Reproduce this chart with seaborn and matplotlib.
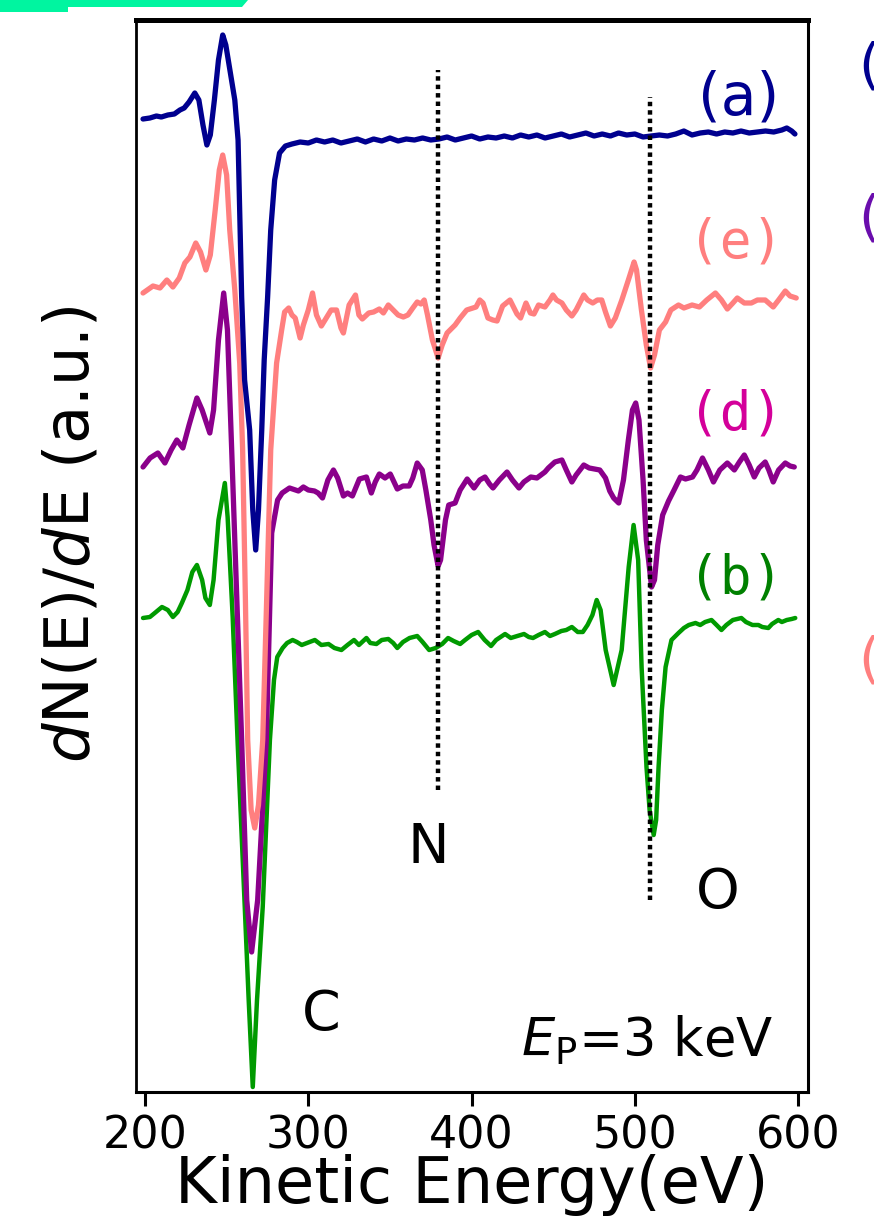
import numpy as np
import pandas as pd
import matplotlib
matplotlib.use("Agg")
import matplotlib.pyplot as plt
from matplotlib.patches import Polygon
import seaborn as sns

sns.set_theme(style="white")
plt.rcParams['font.family'] = ['DejaVu Sans']
plt.rcParams['mathtext.fontset'] = 'dejavusans'

# ---------------- data ----------------
# (a) navy
a_E = [198.8, 203, 207, 210, 214, 218, 221.4, 224, 227, 230.5, 233, 235.5, 237.9, 240, 242.5, 245,
       247.6, 249.5, 252, 255, 257, 259.2, 261, 264.1, 266, 267.8, 269.5, 271.5, 273, 275.1, 277,
       279.4, 282.4, 286, 290, 295, 300, 305, 310, 315, 320, 325, 330, 335, 340, 345, 350, 355,
       360, 365, 370, 375, 380, 385, 390, 395, 400, 405, 410, 415, 420, 425, 430, 435, 440, 445,
       450, 455, 460, 465, 470, 475, 480, 485, 490, 495, 500, 505, 510, 515, 520, 525, 530, 535,
       540, 545, 550, 555, 560, 565, 570, 575, 580, 585, 590, 593, 596, 598]
a_I = [9.81, 9.82, 9.84, 9.83, 9.85, 9.86, 9.90, 9.92, 9.98, 10.07, 10.00, 9.75, 9.55, 9.65, 10.00, 10.40,
       10.65, 10.55, 10.30, 10.00, 9.60, 8.03, 7.20, 6.70, 5.90, 5.50, 5.90, 6.70, 7.40, 8.03, 8.70,
       9.20, 9.47, 9.54, 9.56, 9.58, 9.57, 9.60, 9.58, 9.60, 9.57, 9.59, 9.61, 9.58, 9.61, 9.59, 9.62, 9.59,
       9.61, 9.60, 9.62, 9.60, 9.61, 9.63, 9.60, 9.62, 9.64, 9.61, 9.63, 9.62, 9.64, 9.62, 9.65, 9.63, 9.65, 9.62,
       9.64, 9.66, 9.63, 9.65, 9.67, 9.64, 9.66, 9.64, 9.67, 9.65, 9.66, 9.63, 9.64, 9.65, 9.64, 9.66, 9.69, 9.65,
       9.67, 9.68, 9.66, 9.68, 9.67, 9.69, 9.67, 9.68, 9.69, 9.68, 9.70, 9.72, 9.69, 9.66]

# (e) salmon
e_E = [198.8, 204.9, 209.2, 213.4, 217.1, 221, 224.4, 227.5, 231.1, 234, 237.3, 240, 243, 245.5, 247.6,
       250, 251.9, 255, 258, 259.8, 261.5, 262.9, 265, 267.2, 269.5, 272.1, 274.5, 277, 280.6, 283.7,
       285.5, 288, 290, 292, 295, 297, 300, 302.6, 305, 308, 311, 314, 317.3, 320, 321.5, 325, 328.9,
       331, 333.1, 337, 340, 343.5, 346, 349, 352, 355, 358.2, 361, 364, 366.7, 369, 371, 373, 376,
       379.5, 382, 385, 389.9, 393, 397, 402.7, 405, 407, 410, 413, 415.6, 419, 423.5, 427.8, 430,
       433.3, 436, 438.2, 441, 444.9, 448, 449.8, 452, 455.3, 458, 461.4, 464, 468.7, 471, 474.2, 477,
       479.7, 482, 485, 488, 492, 496, 499.5, 501, 504, 507, 509.6, 512, 515, 518.8, 522, 526.7, 530,
       535, 539.5, 544, 549.3, 553, 556.6, 560, 562.7, 567, 571.3, 575, 579.8, 584.7, 588, 592.1, 595, 598.8]
e_I = [8.07, 8.14, 8.12, 8.20, 8.13, 8.22, 8.37, 8.43, 8.57, 8.48, 8.30, 8.45, 8.90, 9.30, 9.45,
       9.25, 8.70, 8.10, 7.37, 6.50, 5.00, 3.60, 2.90, 2.72, 2.95, 3.60, 5.00, 6.50, 7.37, 7.70,
       7.88, 7.92, 7.85, 7.82, 7.62, 7.75, 7.90, 8.07, 7.85, 7.74, 7.82, 7.90, 7.90, 7.72, 7.67, 7.95, 8.05,
       7.85, 7.81, 7.87, 7.88, 7.91, 7.87, 7.95, 7.90, 7.85, 7.83, 7.85, 7.92, 7.98, 7.96, 8.00, 7.85, 7.60,
       7.42, 7.55, 7.67, 7.75, 7.82, 7.90, 7.93, 8.00, 7.97, 7.82, 7.80, 7.79, 7.94, 8.00, 7.86, 7.82,
       7.97, 7.87, 7.86, 7.95, 7.93, 8.00, 8.05, 8.00, 7.97, 7.90, 7.84, 7.90, 8.05, 8.00, 7.97, 8.00,
       8.00, 7.88, 7.74, 7.82, 8.00, 8.20, 8.38, 8.30, 7.90, 7.55, 7.32, 7.45, 7.70, 7.78, 7.90, 7.95, 7.92,
       7.95, 7.93, 8.00, 8.07, 8.00, 7.91, 7.97, 8.02, 7.97, 7.97, 8.00, 8.00, 7.93, 8.00, 8.09, 8.04, 8.02]

# (d) purple
d_E = [198.8, 203.1, 207.9, 212.2, 216, 219.5, 223.2, 227, 231.8, 235, 239.7, 242, 245, 248.2, 250.5,
       253.1, 259.2, 262.3, 265.3, 269.0, 274.3, 277.6, 281.2, 284, 288.5, 294, 297, 300, 303.8, 306,
       308.7, 312, 315.4, 318, 321.5, 324, 327, 331.3, 335.6, 338.6, 341, 343.5, 347, 350.2, 354.5, 358,
       361.8, 364, 366.7, 369.8, 372, 375, 377, 379.5, 381, 384, 386, 389.9, 393, 397.3, 401.5, 405,
       408.2, 411, 413.1, 417, 421.7, 425, 429, 432, 436.3, 440, 444.9, 447, 451, 455.3, 458, 461.4,
       464, 468.7, 472, 478.5, 482, 484.6, 487, 490.1, 493, 496, 498.5, 500.5, 502.5, 505, 507, 510.2,
       512, 514, 517, 520.6, 524, 527.9, 531, 535.3, 538, 541.4, 545, 548.1, 552, 556.6, 560.9, 564,
       567, 570, 573.1, 576, 579.8, 582, 584.7, 588, 592.1, 595, 597.6]
d_I = [6.33, 6.42, 6.47, 6.37, 6.50, 6.60, 6.52, 6.75, 7.02, 6.90, 6.67, 6.90, 7.60, 8.07, 7.70,
       6.50, 3.60, 2.00, 1.48, 2.00, 3.60, 5.67, 6.00, 6.07, 6.12, 6.09, 6.13, 6.10, 6.09, 6.07,
       6.02, 6.20, 6.30, 6.22, 6.04, 6.07, 6.04, 6.21, 6.23, 6.07, 6.18, 6.26, 6.22, 6.26, 6.11, 6.14,
       6.14, 6.22, 6.37, 6.30, 6.10, 5.80, 5.55, 5.34, 5.40, 5.80, 5.95, 5.97, 6.10, 6.21, 6.12, 6.20,
       6.23, 6.16, 6.12, 6.20, 6.28, 6.20, 6.12, 6.18, 6.23, 6.22, 6.28, 6.32, 6.38, 6.40, 6.30, 6.18,
       6.25, 6.35, 6.32, 6.30, 6.22, 6.09, 6.02, 5.97, 6.20, 6.60, 6.90, 6.97, 6.80, 6.20, 5.60, 5.13,
       5.20, 5.55, 5.85, 5.99, 6.10, 6.23, 6.21, 6.23, 6.30, 6.42, 6.30, 6.18, 6.30, 6.37, 6.30, 6.38,
       6.45, 6.35, 6.23, 6.32, 6.38, 6.30, 6.18, 6.30, 6.37, 6.34, 6.33]

# (b) green
b_E = [198.8, 203, 206, 210.4, 214, 217.1, 220, 222.6, 226, 229, 231.8, 235, 237, 239.7, 242, 245,
       248.9, 250.6, 253.7, 256.8, 261.1, 263.5, 266.0, 268.6, 272.1, 276.5, 279, 281, 284.3, 287,
       290.4, 293, 296, 300.8, 304, 308, 312.4, 316, 320.3, 324, 328, 331, 335.6, 338, 341.7, 345, 349,
       352, 354.5, 358, 362, 366.7, 370, 374, 378, 382, 385.6, 389, 393, 396, 400, 404, 408, 411.9,
       415, 420.5, 424, 428, 432.1, 435, 437.6, 441, 444.9, 448, 451, 455, 458, 461.4, 465, 468.1,
       471, 474, 476.6, 479, 482.1, 487.0, 491.9, 496.2, 499.2, 502, 504.1, 507.1, 509, 511.5, 513,
       514.5, 516.5, 518.8, 522.4, 526.7, 530, 533, 537.1, 540, 543, 546.9, 550, 553, 556, 560, 565.2,
       568, 572, 575.6, 578, 581.7, 584, 587.8, 590, 593, 596, 598.2]
b_I = [4.82, 4.83, 4.87, 4.93, 4.90, 4.83, 4.88, 4.97, 5.10, 5.28, 5.35, 5.20, 5.02, 4.95, 5.20, 5.80,
       6.17, 5.83, 4.83, 3.55, 1.93, 1.00, 0.13, 1.00, 1.93, 3.60, 4.20, 4.43, 4.52, 4.57,
       4.60, 4.58, 4.55, 4.58, 4.60, 4.55, 4.56, 4.52, 4.50, 4.55, 4.60, 4.55, 4.62, 4.57, 4.56, 4.60, 4.61,
       4.57, 4.52, 4.58, 4.62, 4.64, 4.58, 4.50, 4.52, 4.56, 4.62, 4.59, 4.56, 4.60, 4.65, 4.68, 4.60, 4.54,
       4.60, 4.66, 4.62, 4.64, 4.66, 4.63, 4.62, 4.65, 4.68, 4.64, 4.66, 4.69, 4.70, 4.73, 4.68, 4.68,
       4.75, 4.85, 5.00, 4.90, 4.50, 4.15, 4.50, 5.33, 5.75, 5.40, 4.33, 3.33, 2.90, 2.65, 2.80,
       3.33, 3.90, 4.33, 4.60, 4.67, 4.72, 4.75, 4.77, 4.75, 4.78, 4.80, 4.75, 4.70, 4.75, 4.80, 4.82,
       4.78, 4.75, 4.75, 4.73, 4.72, 4.76, 4.80, 4.78, 4.80, 4.81, 4.82]

series_names = ["(a)", "(e)", "(d)", "(b)"]
line_colors = ["#00008F", "#FF7F7F", "#8B008B", "#009A00"]
label_colors = ["#00008F", "#FF7F7F", "#D4009A", "#008000"]

# guide lines (Auger peak energies) and peak labels
guide_E = [379.5, 509.3]
guide_top = [10.30, 10.03]
guide_bottom = [3.10, 2.00]
peak_labels = ["C", "N", "O"]
peak_E = [308, 373.4, 551]
peak_I = [0.85, 2.52, 2.07]

xticks = [200, 300, 400, 500, 600]

# ---------------- figure ----------------
W, H = 874, 1221
fig = plt.figure(figsize=(W / 100, H / 100), dpi=100)
ax = fig.add_axes([136 / W, 1 - 1092 / H, (808 - 136) / W, (1092 - 20) / H])

frames = []
for name, E, I in [("(b)", b_E, b_I), ("(d)", d_E, d_I), ("(e)", e_E, e_I), ("(a)", a_E, a_I)]:
    frames.append(pd.DataFrame({"E": E, "I": I, "s": name}))
df = pd.concat(frames, ignore_index=True)
pal = dict(zip(series_names, line_colors))
widths = {"(a)": 3.8, "(e)": 3.8, "(d)": 3.8, "(b)": 3.2}
for name in ["(b)", "(d)", "(e)", "(a)"]:
    sub = df[df.s == name]
    sns.lineplot(data=sub, x="E", y="I", color=pal[name], linewidth=widths[name], ax=ax,
                 sort=False, estimator=None, legend=False)
for ln in ax.get_lines():
    ln.set_solid_joinstyle("round")
    ln.set_solid_capstyle("round")

for gx, gt, gb in zip(guide_E, guide_top, guide_bottom):
    ax.plot([gx, gx], [gb, gt], color="black", linewidth=3.2, linestyle=(0, (1, 0.9)))

ax.set_xlim(194.5, 606)
ax.set_ylim(0.08, 10.80)

# series labels
lab_pos = {"(a)": (563.5, 10.02), "(e)": (561.5, 8.57), "(d)": (561.5, 6.85), "(b)": (561.5, 5.22)}
for name, col in zip(series_names, label_colors):
    x, y = lab_pos[name]
    if name == "(a)":
        ax.text(x, y, name, color=col, fontsize=42, ha="center", va="center")
    else:
        ax.text(x, y, name, color=col, fontsize=38, ha="center", va="center",
                family="DejaVu Sans Mono")

for t, x, y in zip(peak_labels, peak_E, peak_I):
    ax.text(x, y, t, fontsize=40, ha="center", va="center", color="black")

ax.text(585, 0.60, r"$E_{\mathrm{P}}$=3 keV", fontsize=38, ha="right", va="center", color="black")

# axes styling
ax.set_xticks(xticks)
ax.set_xticklabels([str(t) for t in xticks])
ax.set_yticks([])
ax.tick_params(axis="x", direction="out", length=10, width=2.2, labelsize=32, pad=6,
               bottom=True, colors="black")
for side, lw in [("top", 3.6), ("bottom", 2.2), ("left", 2.0), ("right", 2.2)]:
    ax.spines[side].set_color("black")
    ax.spines[side].set_linewidth(lw)
ax.set_xlabel("Kinetic Energy(eV)", fontsize=46, labelpad=-2, color="black")
ax.set_ylabel(r"$d$N(E)/$d$E (a.u.)", fontsize=45, color="black")
ax.yaxis.set_label_coords(-0.052, 0.52)

# decorations cropped from neighbouring panels
bar = Polygon([[0, 1], [248 / W, 1], [242 / W, 1 - 7 / H], [68 / W, 1 - 7 / H],
               [68 / W, 1 - 12 / H], [0, 1 - 12 / H]], closed=True,
              transform=fig.transFigure, color="#00F5A0", lw=0)
fig.patches.append(bar)
for yy, col in [(68, "#00008F"), (220, "#6A0DAD"), (662, "#FF7F7F")]:
    fig.text(858 / W, 1 - yy / H, "(", color=col, fontsize=40, ha="left", va="center")

fig.savefig("out.png", dpi=100)
